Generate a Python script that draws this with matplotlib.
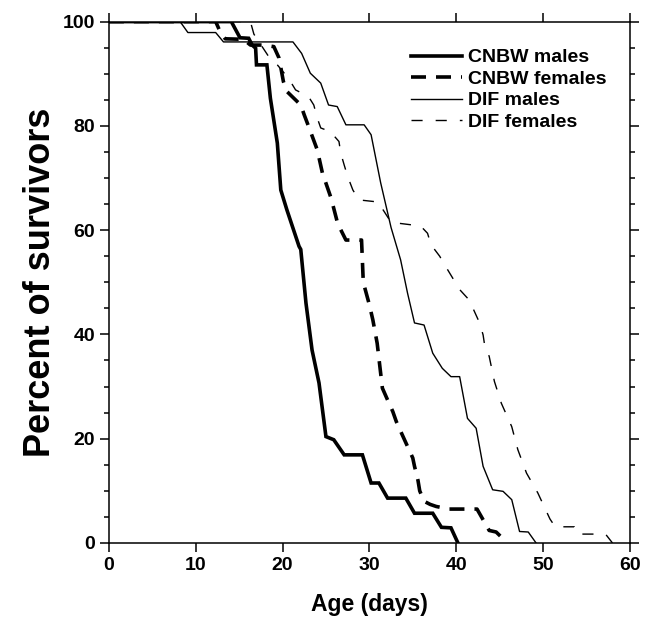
import matplotlib
matplotlib.use("Agg")
import matplotlib.pyplot as plt
from matplotlib.ticker import MultipleLocator

plt.rcParams['font.family'] = ['Liberation Sans', 'DejaVu Sans']
plt.rcParams['font.weight'] = 'bold'
plt.rcParams['lines.scale_dashes'] = False

# ---- data (age in days, percent of survivors) ----
cnbw_m_age = [0, 14.1, 15.1, 16.1, 16.5, 16.9, 17.0, 18.2, 18.6, 19.4, 19.8, 20.5, 21.9, 22.1,
              22.7, 23.4, 24.2, 25.0, 25.9, 27.1, 29.2, 30.2, 31.1, 32.1, 34.2, 35.2, 37.3,
              38.3, 39.4, 40.2]
cnbw_m_pct = [100, 100, 96.9, 96.8, 95.5, 94.9, 91.7, 91.7, 85.3, 76.7, 67.7, 63.9, 56.9, 56.3,
              46.0, 37.0, 30.7, 20.4, 19.8, 16.9, 16.9, 11.5, 11.5, 8.6, 8.6, 5.7, 5.7,
              3.0, 2.9, 0]

cnbw_f_age = [0, 12.3, 12.8, 13.4, 15.5, 16.3, 17.8, 19.0, 19.6, 20.1, 20.5, 22.1, 22.5, 23.0,
              24.0, 24.6, 25.0, 25.6, 26.3, 26.7, 27.3, 29.1, 29.3, 30.0, 30.4, 30.9, 31.5,
              32.0, 32.7, 33.1, 33.8, 34.4, 35.0, 35.2, 35.6, 35.8, 36.3, 37.0, 37.7, 39.2,
              42.4, 43.8, 44.6, 45.9]
cnbw_f_pct = [100, 100, 98.1, 96.7, 96.6, 95.5, 95.5, 95.2, 93.0, 88.5, 86.6, 84.0, 82.1, 79.9,
              75.4, 70.9, 69.0, 66.1, 61.6, 60.1, 58.1, 58.1, 50.0, 45.7, 42.8, 38.3, 29.7,
              27.8, 25.2, 23.3, 20.7, 18.5, 16.3, 14.7, 12.0, 10.0, 8.0, 7.4, 7.0, 6.5,
              6.5, 2.4, 2.1, 0]

dif_m_age = [0, 8.2, 9.1, 12.3, 13.2, 21.2, 22.2, 23.2, 24.4, 25.3, 26.3, 27.3, 29.4, 30.2,
             31.3, 32.5, 33.6, 34.4, 35.2, 36.3, 37.3, 38.4, 39.4, 40.4, 41.3, 42.3, 43.1,
             44.2, 45.4, 46.4, 47.3, 48.3, 49.2]
dif_m_pct = [100, 100, 97.9, 97.9, 96.1, 96.1, 93.9, 90.1, 88.2, 84.0, 83.7, 80.2, 80.2, 78.3,
             69.1, 60.5, 54.3, 47.9, 42.2, 41.8, 36.4, 33.5, 31.9, 31.9, 23.9, 22.0, 14.7,
             10.2, 9.9, 8.3, 2.2, 2.1, 0]

dif_f_age = [0, 16.3, 16.7, 18.4, 19.4, 20.7, 21.5, 23.0, 23.6, 24.0, 24.4, 25.5, 26.5, 26.7,
             27.1, 27.5, 28.1, 28.8, 31.0, 32.5, 35.9, 36.7, 37.1, 38.1, 38.8, 39.6, 40.4,
             41.5, 42.1, 42.7, 43.1, 43.3, 43.8, 44.4, 45.2, 46.4, 47.1, 48.1, 49.4, 50.8,
             51.4, 53.6, 53.9, 57.2, 58.0]
dif_f_pct = [100, 100, 97.6, 93.3, 91.7, 89.1, 86.9, 85.6, 84.0, 81.5, 79.6, 78.9, 77.0, 74.8,
             72.5, 70.3, 67.7, 65.8, 65.4, 61.5, 60.8, 59.4, 57.2, 55.0, 53.0, 50.8, 48.6,
             46.6, 44.4, 42.2, 39.9, 37.7, 35.8, 31.0, 26.8, 22.3, 17.9, 13.4, 9.6, 4.6,
             3.1, 3.1, 1.7, 1.7, 0]

series_labels = ["CNBW males", "CNBW females", "DIF males", "DIF females"]

fig = plt.figure(figsize=(6.52, 6.17), dpi=100)
ax = fig.add_axes([0.167, 0.120, 0.799, 0.845])

ax.plot(cnbw_m_age, cnbw_m_pct, color='black', lw=2.6, solid_joinstyle='miter',
        label=series_labels[0])
ax.plot(cnbw_f_age, cnbw_f_pct, color='black', lw=2.6, dashes=(10.8, 7.2),
        label=series_labels[1])
ax.plot(dif_m_age, dif_m_pct, color='black', lw=1.0, label=series_labels[2])
ax.plot(dif_f_age, dif_f_pct, color='black', lw=1.0, dashes=(8, 9.4),
        label=series_labels[3])

ax.set_xlim(0, 60)
ax.set_ylim(0, 100)
ax.xaxis.set_major_locator(MultipleLocator(10))
ax.yaxis.set_major_locator(MultipleLocator(20))
ax.yaxis.set_minor_locator(MultipleLocator(5))
ax.tick_params(axis='both', which='both', direction='out', top=True, right=True,
               width=1.1, labelsize=14)
ax.tick_params(which='major', length=6.5)
ax.tick_params(which='minor', length=3.6)
for s in ax.spines.values():
    s.set_linewidth(1.1)
for lab in ax.get_xticklabels() + ax.get_yticklabels():
    lab.set_fontweight('bold')

ax.set_xlabel("Age (days)", fontsize=16.5, fontweight='bold', labelpad=14)
ax.set_ylabel("Percent of survivors", fontsize=26, fontweight='bold', labelpad=3)

leg = ax.legend(loc='upper left', bbox_to_anchor=(0.58, 0.948), frameon=False,
                prop={'size': 14, 'weight': 'bold'}, handlelength=2.6,
                handletextpad=0.35, labelspacing=0.2, borderpad=0, borderaxespad=0)

fig.savefig("out.png", dpi=100)
